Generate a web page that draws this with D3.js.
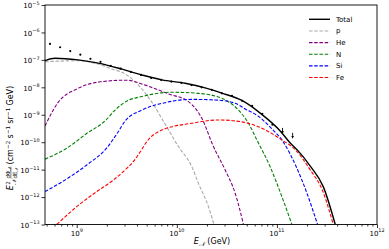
<!DOCTYPE html>
<html>
<head>
  <meta charset="utf-8">
  <script src="https://d3js.org/d3.v7.min.js"></script>
  <style>
    body { margin: 0; background: #fff; }
    text { font-family: "DejaVu Sans", sans-serif; fill: #000; white-space: pre; }
    .axis path { display: none; }
    .axis line { stroke: #000; stroke-width: 0.8px; }
    .curve { fill: none; stroke-width: 1.1px; stroke-dasharray: 3.5,1.7; }
  </style>
</head>
<body>
<div id="plot"></div>
<script>
// everything is stored as log10 values
// log10(E / GeV) and log10(E^2 dPhi/dE / cm^-2 s^-1 sr^-1 GeV)
var totalE = [8.683, 8.783, 9.013, 9.216, 9.443, 9.65, 9.85, 10.083, 10.283, 10.45, 10.65, 10.833, 11.033, 11.133, 11.203, 11.333, 11.463, 11.583];
var totalF = [-7.03, -6.94, -7.00, -7.12, -7.33, -7.55, -7.73, -7.85, -8.02, -8.21, -8.48, -8.94, -9.59, -10.03, -10.28, -10.87, -11.62, -13.0];

var pE = [8.683, 9.013, 9.213, 9.35, 9.483, 9.616, 9.75, 9.883, 10.016, 10.15, 10.216, 10.316, 10.371];
var pF = [-7.07, -7.03, -7.15, -7.33, -7.51, -7.92, -8.54, -9.34, -10.16, -10.89, -11.50, -12.35, -13.0];

var heE = [8.683, 8.816, 9.0, 9.233, 9.493, 9.683, 9.916, 10.116, 10.25, 10.366, 10.483, 10.583, 10.666];
var heF = [-9.41, -8.54, -8.06, -7.80, -7.74, -7.92, -8.24, -8.52, -9.13, -10.16, -11.01, -11.86, -13.0];

var nE = [8.683, 8.9, 9.093, 9.293, 9.383, 9.483, 9.683, 9.95, 10.216, 10.45, 10.616, 10.716, 10.8, 10.933, 11.05, 11.15];
var nF = [-10.62, -10.22, -9.70, -9.19, -8.83, -8.54, -8.31, -8.18, -8.22, -8.40, -8.83, -9.31, -9.92, -10.90, -11.99, -13.0];

var siE = [8.683, 8.9, 9.1, 9.3, 9.413, 9.483, 9.65, 9.883, 10.15, 10.383, 10.583, 10.683, 10.813, 10.933, 11.063, 11.2, 11.3, 11.406];
var siF = [-11.80, -11.34, -10.83, -10.21, -9.63, -9.23, -8.83, -8.56, -8.44, -8.46, -8.58, -8.79, -9.05, -9.45, -9.99, -10.95, -11.86, -13.0];

var feE = [8.8, 9.0, 9.2, 9.366, 9.483, 9.563, 9.633, 9.713, 9.85, 10.15, 10.416, 10.633, 10.783, 10.893, 11.033, 11.2, 11.333, 11.453, 11.563];
var feF = [-13.0, -12.35, -11.80, -11.38, -11.01, -10.72, -10.36, -9.92, -9.56, -9.31, -9.19, -9.25, -9.39, -9.57, -9.88, -10.34, -11.01, -11.74, -13.0];

// measured points
var dataE = [8.733, 8.834, 8.935, 9.036, 9.137, 9.238, 9.339, 9.44, 9.541, 9.642, 9.743, 9.844, 9.945, 10.046, 10.147, 10.248, 10.349, 10.45, 10.551, 10.652, 10.753, 10.854, 10.955];
var dataF = [-6.42, -6.54, -6.68, -6.81, -6.96, -7.07, -7.22, -7.32, -7.44, -7.55, -7.66, -7.73, -7.79, -7.84, -7.92, -8.00, -8.09, -8.22, -8.31, -8.49, -8.68, -8.97, -9.36];
// upper limits
var limE = [11.056, 11.157];
var limF = [-9.48, -9.66];

var names = ['Total', 'p', 'He', 'N', 'Si', 'Fe'];
var colors = ['#000000', '#a9a9a9', '#800080', '#008000', '#0000ff', '#ff0000'];
var xTicks = [9, 10, 11, 12];
var yTicks = [-13, -12, -11, -10, -9, -8, -7, -6, -5];

var W = 389, H = 249;
var L = 45, R = 377, T = 5, B = 224.5;

var svg = d3.select('#plot').append('svg')
  .attr('width', W).attr('height', H);

var x = d3.scaleLog().domain([Math.pow(10, 8.683), 1e12]).range([L, R]);
var y = d3.scaleLog().domain([1e-13, 1e-5]).range([B, T]);

function pts(es, fs) {
  return es.map(function(e, i){ return [Math.pow(10, e), Math.pow(10, fs[i])]; });
}

// minor ticks on x
var minor = [];
[8, 9, 10, 11].forEach(function(d){
  for (var k = 2; k < 10; k++) {
    var v = k * Math.pow(10, d);
    if (v > x.domain()[0] && v < 1e12) minor.push(v);
  }
});

svg.append('g').attr('class', 'axis')
  .attr('transform', 'translate(0,' + B + ')')
  .call(d3.axisBottom(x).tickValues(minor).tickSize(2).tickFormat(''));

svg.append('g').attr('class', 'axis')
  .attr('transform', 'translate(0,' + B + ')')
  .call(d3.axisBottom(x).tickValues(xTicks.map(function(d){ return Math.pow(10, d); })).tickSize(3.5).tickFormat(''));

svg.append('g').attr('class', 'axis')
  .attr('transform', 'translate(' + L + ',0)')
  .call(d3.axisLeft(y).tickValues(yTicks.map(function(d){ return Math.pow(10, d); })).tickSize(3.5).tickFormat(''));

// tick labels 10^n
xTicks.forEach(function(d){
  var t = svg.append('text')
    .attr('x', x(Math.pow(10, d))).attr('y', 235.5)
    .attr('text-anchor', 'middle').attr('font-size', 7);
  t.append('tspan').text('10');
  t.append('tspan').attr('font-size', 4.9).attr('dy', -3.3).text(d);
});
yTicks.forEach(function(d){
  var t = svg.append('text')
    .attr('x', L - 5.5).attr('y', y(Math.pow(10, d)) + 3.2)
    .attr('text-anchor', 'end').attr('font-size', 7);
  t.append('tspan').text('10');
  t.append('tspan').attr('font-size', 4.9).attr('dy', -3.3).text('\u2212' + Math.abs(d));
});

// curves
svg.append('clipPath').attr('id', 'clip')
  .append('rect').attr('x', L).attr('y', T).attr('width', R - L).attr('height', B - T);

var line = d3.line()
  .x(function(d){ return x(d[0]); })
  .y(function(d){ return y(d[1]); })
  .curve(d3.curveMonotoneX);

var plot = svg.append('g').attr('clip-path', 'url(#clip)');
var series = [[pE, pF], [heE, heF], [nE, nF], [siE, siF], [feE, feF]];
series.forEach(function(s, i){
  plot.append('path').attr('class', 'curve')
    .attr('d', line(pts(s[0], s[1])))
    .style('stroke', colors[i + 1]);
});
plot.append('path')
  .attr('d', line(pts(totalE, totalF)))
  .style('fill', 'none').style('stroke', '#000').style('stroke-width', 1.4);

plot.selectAll('.dot')
  .data(pts(dataE, dataF))
  .enter().append('circle')
  .attr('class', 'dot')
  .attr('cx', function(d){ return x(d[0]); })
  .attr('cy', function(d){ return y(d[1]); })
  .attr('r', 1.1)
  .style('fill', '#000');

var lims = plot.selectAll('.lim')
  .data(pts(limE, limF))
  .enter().append('g').attr('class', 'lim')
  .attr('transform', function(d){ return 'translate(' + x(d[0]) + ',' + y(d[1]) + ')'; });
lims.append('line').attr('x1', 0).attr('x2', 0).attr('y1', 0).attr('y2', 4)
  .style('stroke', '#000').style('stroke-width', 0.9);
lims.append('path').attr('d', 'M-1.3,3.2L1.3,3.2L0,6Z').style('fill', '#000');

// frame
svg.append('rect').attr('x', L).attr('y', T).attr('width', R - L).attr('height', B - T)
  .style('fill', 'none').style('stroke', '#000').style('stroke-width', 0.9);

// legend
var legend = svg.selectAll('.legend')
  .data(names)
  .enter().append('g').attr('class', 'legend')
  .attr('transform', function(d, i){ return 'translate(0,' + (19.3 + i * 11.65) + ')'; });
legend.append('line')
  .attr('x1', 309).attr('x2', 330)
  .style('stroke', function(d, i){ return colors[i]; })
  .style('stroke-width', function(d, i){ return i === 0 ? 1.4 : 1.1; })
  .style('stroke-dasharray', function(d, i){ return i === 0 ? null : '3.5,1.7'; });
legend.append('text')
  .attr('x', 336).attr('dy', '0.35em').attr('font-size', 7)
  .text(function(d){ return d; });

// x label
var xl = svg.append('text').attr('x', 212).attr('y', 244).attr('text-anchor', 'middle').attr('font-size', 8);
xl.append('tspan').attr('font-style', 'italic').text('E');
xl.append('tspan').attr('font-size', 6).attr('dy', 1.8).attr('font-style', 'italic').text('\uD835\uDCA9');
xl.append('tspan').attr('dy', -1.8).text(' (GeV)');

// y label, built piece by piece in the rotated frame
var yg = svg.append('g').attr('transform', 'translate(13.3,138) rotate(-90)');
var inner = yg.append('g');
var cur = 0;
function piece(str, dx, dy, size, italic) {
  var t = inner.append('text').attr('x', cur + dx).attr('y', dy).attr('font-size', size).text(str);
  if (italic) t.attr('font-style', 'italic');
  return t.node().getComputedTextLength() + dx;
}
cur += piece('E', 0, 0, 8, true);
var w1 = piece('2', 0.3, -3.6, 5.6, false);
var w2 = piece('\uD835\uDCA9', 0.3, 2.2, 5.6, true);
cur += Math.max(w1, w2) + 1.2;
var fx = cur;
var n1 = piece('d\u03A6', 0, -3.8, 5.6, false);
cur += n1;
var n2 = piece('\uD835\uDCA9', 0, -2.6, 4, true);
cur = fx;
var d1 = piece('dE', 0, 3.6, 5.6, false);
cur += d1;
var d2 = piece('\uD835\uDCA9', 0, 4.8, 4, true);
var fw = Math.max(n1 + n2, d1 + d2);
inner.append('line').attr('x1', fx).attr('x2', fx + fw).attr('y1', -2.4).attr('y2', -2.4)
  .style('stroke', '#000').style('stroke-width', 0.5);
cur = fx + fw + 2.2;
cur += piece('(cm', 0, 0, 8, false);
cur += piece('\u22122', 0.2, -3.6, 5.6, false);
cur += 2.2;
cur += piece('s', 0, 0, 8, false);
cur += piece('\u22121', 0.2, -3.6, 5.6, false);
cur += 2.2;
cur += piece('sr', 0, 0, 8, false);
cur += piece('\u22121', 0.2, -3.6, 5.6, false);
cur += 2.2;
cur += piece('GeV)', 0, 0, 8, false);
inner.attr('transform', 'translate(' + (-cur / 2) + ',0)');
</script>
</body>
</html>
